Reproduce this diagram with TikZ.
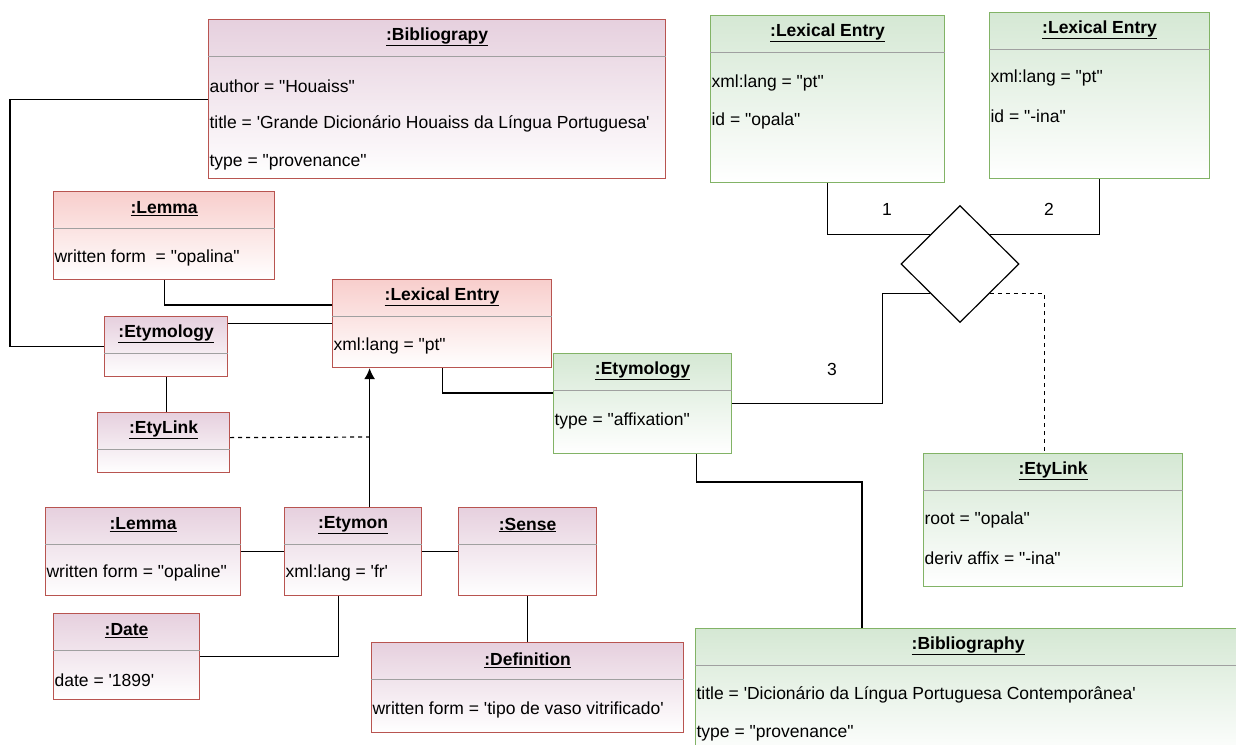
\documentclass[tikz,border=0pt]{standalone}
\usepackage{fontspec}
\setmainfont{Liberation Sans}[Ligatures=TeXOff]
\usetikzlibrary{shapes.geometric,arrows.meta}
\definecolor{redline}{HTML}{B85450}
\definecolor{redfill}{HTML}{F8CECC}
\definecolor{purplefill}{HTML}{E6D0DE}
\definecolor{greenline}{HTML}{82B366}
\definecolor{greenfill}{HTML}{D5E8D4}
\definecolor{divgray}{HTML}{A0A0A0}
\newcommand{\apos}{\textquotesingle}

\begin{document}
\begin{tikzpicture}[x=1pt, y=-1pt, line width=1.2pt, font=\fontsize{17.5}{21}\selectfont,
    box/.style={draw, rectangle, anchor=north west, inner sep=0pt},
    redbox/.style={box, draw=redline, top color=redfill, bottom color=white},
    purplebox/.style={box, draw=redline, top color=purplefill, bottom color=white},
    greenbox/.style={box, draw=greenline, top color=greenfill, bottom color=white},
    hdr/.style={font=\fontsize{17.5}{21}\selectfont\bfseries, inner sep=0pt},
    attr/.style={anchor=west, inner sep=1pt},
    divider/.style={draw=divgray, line width=1pt},
    num/.style={inner sep=0pt}]
    \clip (0,0) rectangle (1236,744);

    \node[purplebox, minimum width=457pt, minimum height=159pt] (bib1) at (208,19) {};
    \node[redbox, minimum width=221pt, minimum height=88pt] (lemma1) at (53,191) {};
    \node[redbox, minimum width=219pt, minimum height=88pt] (lex) at (332,279) {};
    \node[purplebox, minimum width=123pt, minimum height=60pt] (ety1) at (104,316) {};
    \node[purplebox, minimum width=132pt, minimum height=60pt] (etylink1) at (97,412) {};
    \node[greenbox, minimum width=178pt, minimum height=100pt] (ety2) at (553,353) {};
    \node[greenbox, minimum width=234pt, minimum height=167pt] (lexA) at (710,15) {};
    \node[greenbox, minimum width=220pt, minimum height=166pt] (lexB) at (989,12) {};
    \node[greenbox, minimum width=259pt, minimum height=133pt] (etylink2) at (923,453) {};
    \node[greenbox, minimum width=545pt, minimum height=130pt] (bib2) at (695,628) {};
    \node[purplebox, minimum width=195pt, minimum height=88pt] (lemma2) at (45,507) {};
    \node[purplebox, minimum width=137pt, minimum height=88pt] (etymon) at (284,507) {};
    \node[purplebox, minimum width=138pt, minimum height=88pt] (sense) at (458,507) {};
    \node[purplebox, minimum width=146pt, minimum height=86pt] (date) at (53,613) {};
    \node[purplebox, minimum width=312pt, minimum height=90pt] (defn) at (371,642) {};
    \node[diamond, draw, fill=white, minimum width=118pt, minimum height=117pt, inner sep=0pt] (rel) at (960,264) {};

    \foreach \b in {bib1,lemma1,lex,ety1,etylink1,ety2,lexA,lexB,etylink2,bib2,lemma2,etymon,sense,date,defn}
      \draw[divider] ([yshift=-37pt]\b.north west) -- ([yshift=-37pt]\b.north east);

    \foreach \b/\t in {bib1/Bibliograpy, lemma1/Lemma, lex/Lexical Entry, ety1/Etymology, etylink1/EtyLink,
        ety2/Etymology, lexA/Lexical Entry, lexB/Lexical Entry, etylink2/EtyLink, bib2/Bibliography,
        lemma2/Lemma, etymon/Etymon, sense/Sense, date/Date, defn/Definition}
      \node[hdr] (\b-t) at ([yshift=-18pt]\b.north) {\underline{:\t}};

    \node[attr] (bib1-a1) at ([yshift=-67pt]bib1.north west) {author = "Houaiss"};
    \node[attr] (bib1-a2) at ([yshift=-105pt]bib1.north west) {title = \apos Grande Dicionário Houaiss da Língua Portuguesa\apos};
    \node[attr] (bib1-a3) at ([yshift=-143pt]bib1.north west) {type = "provenance"};
    \node[attr] (lemma1-a1) at ([yshift=-67pt]lemma1.north west) {written form~~= "opalina"};
    \node[attr] (lex-a1) at ([yshift=-67pt]lex.north west) {xml:lang = "pt"};
    \node[attr] (ety2-a1) at ([yshift=-68pt]ety2.north west) {type = "affixation"};
    \node[attr] (lexA-a1) at ([yshift=-68pt]lexA.north west) {xml:lang = "pt"};
    \node[attr] (lexA-a2) at ([yshift=-106pt]lexA.north west) {id = "opala"};
    \node[attr] (lexB-a1) at ([yshift=-66pt]lexB.north west) {xml:lang = "pt"};
    \node[attr] (lexB-a2) at ([yshift=-104pt]lexB.north west) {id = "-ina"};
    \node[attr] (etylink2-a1) at ([yshift=-67pt]etylink2.north west) {root = "opala"};
    \node[attr] (etylink2-a2) at ([yshift=-105pt]etylink2.north west) {deriv affix = "-ina"};
    \node[attr] (bib2-a1) at ([yshift=-67pt]bib2.north west) {title = \apos Dicionário da Língua Portuguesa Contemporânea\apos};
    \node[attr] (bib2-a2) at ([yshift=-105pt]bib2.north west) {type = "provenance"};
    \node[attr] (lemma2-a1) at ([yshift=-66pt]lemma2.north west) {written form = "opaline"};
    \node[attr] (etymon-a1) at ([yshift=-66pt]etymon.north west) {xml:lang = \apos fr\apos};
    \node[attr] (date-a1) at ([yshift=-67pt]date.north west) {date = \apos 1899\apos};
    \node[attr] (defn-a1) at ([yshift=-68pt]defn.north west) {written form = \apos tipo de vaso vitrificado\apos};

    \node[num] (n1) at (887,209) {1};
    \node[num] (n2) at (1049,209) {2};
    \node[num] (n3) at (832,369) {3};

    \coordinate (arr) at ([xshift=16.5pt]etymon.north);
    \coordinate (meet) at (369,437);
    \coordinate (bend) at (862,482);

    \draw (bib1.west) -- ++(-198,0) |- (ety1.west);
    \draw (lemma1.south) |- ([yshift=-26pt]lex.north west);
    \draw (ety1.east |- lex.west) -- (lex.west);
    \draw (ety1.south) -- (ety1.south |- etylink1.north);
    \draw[-{Latex[length=11pt,width=11pt]}] (arr) -- (arr |- lex.south);
    \draw[dash pattern=on 4pt off 4pt] ([yshift=5pt]etylink1.east) -- (meet);
    \draw (lex.south) |- ([yshift=-40pt]ety2.north west);
    \draw (ety2.east) -| ([xshift=-48pt]rel.south west) -- (rel.south west);
    \draw (lexA.south) |- (rel.north west);
    \draw (lexB.south) |- (rel.north east);
    \draw[dash pattern=on 4pt off 4pt] (rel.south east) -| ([xshift=-9pt]etylink2.north);
    \draw ([xshift=-36pt]ety2.south east) |- (bend) -- (bend |- bib2.north);
    \draw (lemma2.east) -- (etymon.west);
    \draw (etymon.east) -- (sense.west);
    \draw (date.east) -| ([xshift=-14.5pt]etymon.south);
    \draw (sense.south) -- (sense.south |- defn.north);
\end{tikzpicture}
\end{document}
